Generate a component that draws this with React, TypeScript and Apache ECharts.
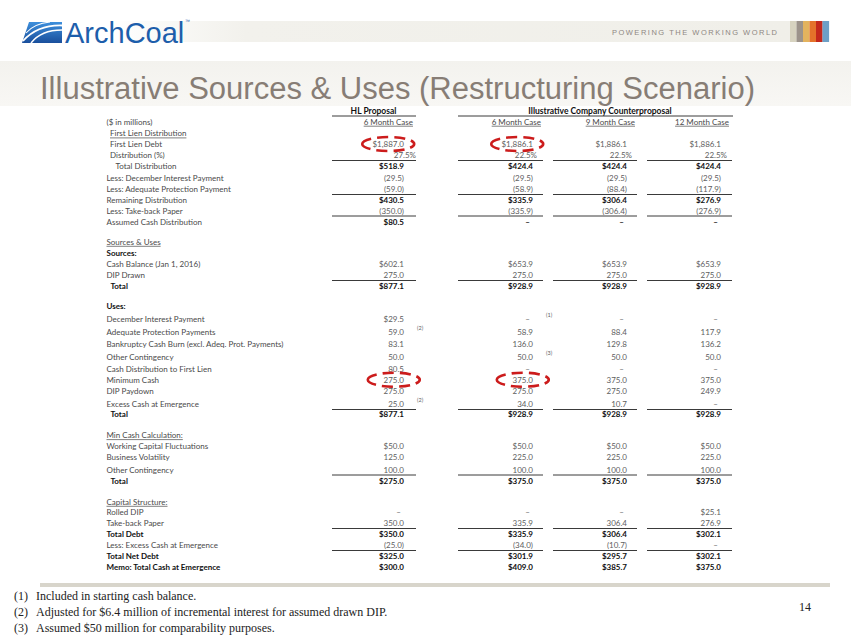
import React, { useEffect, useRef } from "react";
import * as echarts from "echarts";

// ---------- data ----------
const groupHeaders = ["HL Proposal", "Illustrative Company Counterproposal"];
const caseHeaders = ["6 Month Case", "6 Month Case", "9 Month Case", "12 Month Case"];

const firstLienDebt = [1887.0, 1886.1, 1886.1, 1886.1];
const distributionPct = [27.5, 22.5, 22.5, 22.5];
const totalDistribution = [518.9, 424.4, 424.4, 424.4];
const decInterestLess = [-29.5, -29.5, -29.5, -29.5];
const adequateProtectionLess = [-59.0, -58.9, -88.4, -117.9];
const remainingDistribution = [430.5, 335.9, 306.4, 276.9];
const takeBackLess = [-350.0, -335.9, -306.4, -276.9];
const assumedCashDistribution = [80.5, null, null, null];
const cashBalance = [602.1, 653.9, 653.9, 653.9];
const dipDrawn = [275.0, 275.0, 275.0, 275.0];
const sourcesTotal = [877.1, 928.9, 928.9, 928.9];
const decInterestUse = [29.5, null, null, null];
const adequateProtectionUse = [59.0, 58.9, 88.4, 117.9];
const cashBurn = [83.1, 136.0, 129.8, 136.2];
const otherContingencyUse = [50.0, 50.0, 50.0, 50.0];
const cashDistFirstLien = [80.5, null, null, null];
const minimumCash = [275.0, 375.0, 375.0, 375.0];
const dipPaydown = [275.0, 275.0, 275.0, 249.9];
const excessCash = [25.0, 34.0, 10.7, null];
const usesTotal = [877.1, 928.9, 928.9, 928.9];
const workingCapital = [50.0, 50.0, 50.0, 50.0];
const businessVolatility = [125.0, 225.0, 225.0, 225.0];
const otherContingencyMin = [100.0, 100.0, 100.0, 100.0];
const minCashTotal = [275.0, 375.0, 375.0, 375.0];
const rolledDip = [null, null, null, 25.1];
const takeBackPaper = [350.0, 335.9, 306.4, 276.9];
const totalDebt = [350.0, 335.9, 306.4, 302.1];
const lessExcessCash = [-25.0, -34.0, -10.7, null];
const totalNetDebt = [325.0, 301.9, 295.7, 302.1];
const memoCash = [300.0, 409.0, 385.7, 375.0];

type Row = { label: string; values?: (number | null)[]; fmt?: "dollar" | "plain" | "pct" };
const rows: Row[] = [
  { label: "($ in millions)" },
  { label: "First Lien Distribution" },
  { label: "First Lien Debt", values: firstLienDebt, fmt: "dollar" },
  { label: "Distribution (%)", values: distributionPct, fmt: "pct" },
  { label: "Total Distribution", values: totalDistribution, fmt: "dollar" },
  { label: "Less: December Interest Payment", values: decInterestLess, fmt: "plain" },
  { label: "Less: Adequate Protection Payment", values: adequateProtectionLess, fmt: "plain" },
  { label: "Remaining Distribution", values: remainingDistribution, fmt: "dollar" },
  { label: "Less: Take-back Paper", values: takeBackLess, fmt: "plain" },
  { label: "Assumed Cash Distribution", values: assumedCashDistribution, fmt: "dollar" },
  { label: "Sources & Uses" },
  { label: "Sources:" },
  { label: "Cash Balance (Jan 1, 2016)", values: cashBalance, fmt: "dollar" },
  { label: "DIP Drawn", values: dipDrawn, fmt: "plain" },
  { label: "Total", values: sourcesTotal, fmt: "dollar" },
  { label: "Uses:" },
  { label: "December Interest Payment", values: decInterestUse, fmt: "dollar" },
  { label: "Adequate Protection Payments", values: adequateProtectionUse, fmt: "plain" },
  { label: "Bankruptcy Cash Burn (excl. Adeq. Prot. Payments)", values: cashBurn, fmt: "plain" },
  { label: "Other Contingency", values: otherContingencyUse, fmt: "plain" },
  { label: "Cash Distribution to First Lien", values: cashDistFirstLien, fmt: "plain" },
  { label: "Minimum Cash", values: minimumCash, fmt: "plain" },
  { label: "DIP Paydown", values: dipPaydown, fmt: "plain" },
  { label: "Excess Cash at Emergence", values: excessCash, fmt: "plain" },
  { label: "Total", values: usesTotal, fmt: "dollar" },
  { label: "Min Cash Calculation:" },
  { label: "Working Capital Fluctuations", values: workingCapital, fmt: "dollar" },
  { label: "Business Volatility", values: businessVolatility, fmt: "plain" },
  { label: "Other Contingency", values: otherContingencyMin, fmt: "plain" },
  { label: "Total", values: minCashTotal, fmt: "dollar" },
  { label: "Capital Structure:" },
  { label: "Rolled DIP", values: rolledDip, fmt: "dollar" },
  { label: "Take-back Paper", values: takeBackPaper, fmt: "plain" },
  { label: "Total Debt", values: totalDebt, fmt: "dollar" },
  { label: "Less: Excess Cash at Emergence", values: lessExcessCash, fmt: "plain" },
  { label: "Total Net Debt", values: totalNetDebt, fmt: "dollar" },
  { label: "Memo: Total Cash at Emergence", values: memoCash, fmt: "dollar" },
];

const footnoteMarks = [
  { row: 16, col: 1, text: "(1)" },
  { row: 17, col: 0, text: "(2)" },
  { row: 19, col: 1, text: "(3)" },
  { row: 23, col: 0, text: "(2)" },
];
const highlighted = [
  { row: 2, col: 0 },
  { row: 2, col: 1 },
  { row: 21, col: 0 },
  { row: 21, col: 1 },
];
const footnotes = [
  "Included in starting cash balance.",
  "Adjusted for $6.4 million of incremental interest for assumed drawn DIP.",
  "Assumed $50 million for comparability purposes.",
];
const pageNumber = "14";
const title = "Illustrative Sources & Uses (Restructuring Scenario)";
const tagline = "POWERING THE WORKING WORLD";
const brand = "ArchCoal";

// ---------- layout ----------
const rowY = [122.3, 133.3, 144, 155, 166.3, 177.7, 189, 199.7, 210.7, 221.7, 241.7, 253, 264, 275, 286.3, 306, 319,
  332, 344.3, 357.3, 368.7, 379.7, 390.7, 404, 414, 435, 446, 457.3, 469.7, 481, 501.7, 511.7, 523, 534, 545, 556.3, 567.3];
const rowX = (i: number) => ([1, 2, 3].includes(i) ? 110 : i === 4 ? 115.5 : [14, 24, 29].includes(i) ? 110.5 : 106.5);
const underlineRows = [1, 10, 25, 30];
const boldLabelRows = [11, 14, 15, 24, 29, 33, 35, 36];
const boldValueRows = [4, 7, 9, 14, 24, 29, 33, 35, 36];
const colRight = [404, 533, 627, 721];
const pctRight = [416, 537, 632, 727];
const colSeg = [[332, 416], [458, 543], [553, 637], [647, 732]];
const ruleY = [160.5, 194.5, 216, 280.5, 409.5, 475, 528.5, 550.5];
const caseRight = [413, 541, 635, 729];

const TF = "Lato, 'Open Sans', sans-serif";
const SF = "'Liberation Serif', 'DejaVu Serif', serif";
const LABEL = "#4a4a4a";
const VALUE = "#5e5e5e";
const BOLD = "#111111";

function fmt(v: number | null, kind?: string) {
  if (v === null || v === undefined) return "–";
  const s = Math.abs(v).toLocaleString("en-US", { minimumFractionDigits: 1, maximumFractionDigits: 1 });
  if (kind === "pct") return s + "%";
  if (v < 0) return "(" + s + ")";
  if (kind === "dollar") return "$" + s;
  return s;
}

let ctx: CanvasRenderingContext2D | null = null;
function measure(text: string, size: number, weight = "normal", family = TF) {
  if (!ctx) ctx = document.createElement("canvas").getContext("2d");
  if (!ctx) return text.length * size * 0.5;
  ctx.font = `${weight} ${size}px ${family}`;
  return ctx.measureText(text).width;
}

function txt(x: number, y: number, text: string, o: any = {}) {
  return {
    type: "text",
    x,
    y,
    silent: true,
    style: {
      text,
      fill: o.fill || LABEL,
      fontSize: o.size || 8,
      fontFamily: o.family || TF,
      fontWeight: o.weight || "normal",
      align: o.align || "left",
      verticalAlign: o.va || "middle",
    },
  };
}
function hline(x1: number, x2: number, y: number, color = "#3a3a3a", w = 1) {
  return { type: "line", silent: true, shape: { x1, y1: y, x2, y2: y }, style: { stroke: color, lineWidth: w } };
}

export default function App() {
  const ref = useRef<HTMLDivElement>(null);
  useEffect(() => {
    if (!ref.current) return;
    const chart = echarts.init(ref.current, null, { renderer: "svg" });
    const els: any[] = [];

    // header band
    els.push({
      type: "rect", silent: true, shape: { x: 110, y: 21, width: 680, height: 21 },
      style: { fill: new echarts.graphic.LinearGradient(0, 0, 1, 0, [
        { offset: 0, color: "rgba(241,240,234,0)" }, { offset: 0.2, color: "#f2f1ec" }, { offset: 1, color: "#f0efe9" }]) },
    });
    const stripes = ["#d7d3c0", "#9c938b", "#e3b35e", "#e4722a", "#c4281c", "#6d9fc6"];
    stripes.forEach((c, i) => els.push({ type: "rect", silent: true, shape: { x: 790 + i * 6.5, y: 21, width: 6.6, height: 21 }, style: { fill: c } }));
    els.push(txt(777, 32.5, tagline.split("").join("\u2009"), { size: 7.5, fill: "#8e8782", align: "right", family: "'Liberation Sans', Arial, sans-serif" }));

    // logo
    els.push({
      type: "polygon", silent: true, shape: { points: [[29, 22], [62, 22], [62, 43], [22, 43]] },
      style: { fill: new echarts.graphic.LinearGradient(0, 0, 0, 1, [{ offset: 0, color: "#3d8fdc" }, { offset: 1, color: "#1a4f9c" }]) },
    });
    els.push({ type: "bezierCurve", silent: true, shape: { x1: 23, y1: 41, cpx1: 33, cpy1: 30, cpx2: 46, cpy2: 25, x2: 62, y2: 25.5 }, style: { stroke: "#fff", lineWidth: 1.8, fill: "none" } });
    els.push({ type: "bezierCurve", silent: true, shape: { x1: 31, y1: 43, cpx1: 38, cpy1: 34, cpx2: 49, cpy2: 30, x2: 62, y2: 30 }, style: { stroke: "#fff", lineWidth: 1.4, fill: "none" } });
    els.push({ type: "bezierCurve", silent: true, shape: { x1: 26, y1: 33, cpx1: 32, cpy1: 26, cpx2: 40, cpy2: 23, x2: 50, y2: 22 }, style: { stroke: "#fff", lineWidth: 1.1, fill: "none" } });
    els.push(txt(65, 33, brand, { size: 29, fill: "#1d5eab", family: "'Liberation Sans', Arial, sans-serif" }));
    els.push(txt(185, 21, "™", { size: 5, fill: "#1d5eab", family: "'Liberation Sans', Arial, sans-serif" }));

    // title band + title
    els.push({
      type: "rect", silent: true, shape: { x: 0, y: 61, width: 851, height: 45 },
      style: { fill: new echarts.graphic.LinearGradient(0, 0, 0, 1, [{ offset: 0, color: "#f3f2ee" }, { offset: 1, color: "#f8f7f4" }]) },
    });
    els.push(txt(40, 88, title, { size: 31, fill: "#877d75", family: "'Liberation Sans', Arial, sans-serif" }));

    // group headers
    els.push(txt(373.5, 110.7, groupHeaders[0], { weight: "bold", fill: BOLD, align: "center", size: 8.5 }));
    els.push(txt(600, 110.7, groupHeaders[1], { weight: "bold", fill: BOLD, align: "center", size: 8.5 }));
    els.push(hline(332, 416, 116));
    els.push(hline(458, 733, 116));
    caseHeaders.forEach((h, c) => {
      els.push(txt(caseRight[c], 121.7, h, { align: "right", fill: LABEL }));
      const w = measure(h, 8);
      els.push(hline(caseRight[c] - w, caseRight[c], 126.2, LABEL, 0.7));
    });

    // rows
    rows.forEach((r, i) => {
      const y = rowY[i];
      const x = rowX(i);
      const lb = boldLabelRows.includes(i);
      els.push(txt(x, y, r.label, { weight: lb ? "bold" : "normal", fill: lb ? BOLD : LABEL }));
      if (underlineRows.includes(i)) {
        const w = measure(r.label, 8);
        els.push(hline(x, x + w, y + 4.6, LABEL, 0.7));
      }
      if (r.values) {
        const vb = boldValueRows.includes(i);
        r.values.forEach((v, c) => {
          const s = fmt(v, r.fmt);
          let rx = r.fmt === "pct" ? pctRight[c] : colRight[c];
          if (v === null) rx = colRight[c] - 3;
          els.push(txt(rx, y, s, { align: "right", weight: vb ? "bold" : "normal", fill: vb ? BOLD : VALUE }));
        });
      }
    });
    ruleY.forEach((y) => colSeg.forEach(([a, b]) => els.push(hline(a, b, y))));

    footnoteMarks.forEach((m) => {
      els.push(txt(colRight[m.col] + 13, rowY[m.row] - 4, m.text, { size: 5.5, fill: VALUE }));
    });

    highlighted.forEach((h) => {
      const s = fmt(rows[h.row].values![h.col], rows[h.row].fmt);
      const w = measure(s, 8);
      const cx = colRight[h.col] - w / 2;
      els.push({
        type: "ellipse", silent: true, shape: { cx, cy: rowY[h.row], rx: 26, ry: 7 },
        style: { fill: "none", stroke: "#cc1c1c", lineWidth: 2.6, lineDash: [11, 6] },
      });
    });

    // footer
    els.push({ type: "rect", silent: true, shape: { x: 40, y: 583, width: 790, height: 4 }, style: { fill: "#d8d5cb" } });
    footnotes.forEach((f, i) => {
      const y = 596 + i * 16;
      els.push(txt(14, y, `(${i + 1})`, { size: 12, fill: "#222", family: SF }));
      els.push(txt(36, y, f, { size: 12, fill: "#222", family: SF }));
    });
    els.push(txt(799, 607, pageNumber, { size: 12, fill: "#222", family: SF }));

    chart.setOption({ animation: false, backgroundColor: "#ffffff", graphic: { elements: els } });
    return () => chart.dispose();
  }, []);
  return <div ref={ref} style={{ position: "absolute", left: 0, top: 0, width: 851, height: 635 }} />;
}
